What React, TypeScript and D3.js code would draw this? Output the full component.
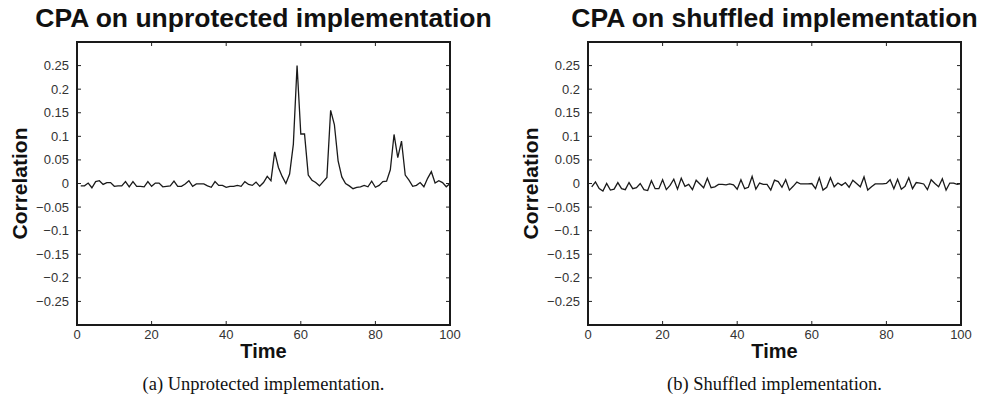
import React, { useRef, useEffect } from "react";
import * as d3 from "d3";

// correlation values for time samples 1..100
const unprotectedCorr = [
  -0.005, -0.005, 0.001, -0.009, 0.004, 0.006, -0.002, 0.002, 0.002, -0.006,
  -0.005, -0.005, 0.004, -0.007, 0.004, -0.006, -0.006, -0.007, 0.004, -0.006,
  0.001, 0.001, -0.007, -0.006, -0.005, 0.005, -0.006, -0.006, -0.001, 0.006,
  -0.006, -0.001, -0.001, -0.001, -0.005, -0.008, 0.004, -0.004, -0.004, -0.008,
  -0.006, -0.006, -0.004, -0.006, 0.004, -0.002, -0.004, 0.003, -0.006, 0.002,
  0.015, 0.006, 0.067, 0.034, 0.015, 0.0, 0.02, 0.083, 0.25, 0.105,
  0.105, 0.018, 0.007, 0.002, -0.005, 0.004, 0.013, 0.155, 0.125, 0.048,
  0.014, 0.0, -0.005, -0.011, -0.008, -0.007, -0.004, -0.007, 0.005, -0.008,
  -0.004, 0.004, 0.005, 0.029, 0.104, 0.055, 0.09, 0.018, 0.007, -0.006,
  -0.004, 0.002, -0.007, 0.011, 0.025, 0.001, 0.006, 0.002, -0.007, 0.0,
];

const shuffledCorr = [
  -0.007, 0.0035, -0.0105, -0.016, 0, -0.014, -0.012, 0.002, -0.011, -0.013,
  0.002, -0.011, -0.009, 0, -0.013, -0.015, 0.006, -0.011, -0.011, 0.008,
  -0.013, -0.004, 0.009, -0.012, 0.011, -0.006, -0.002, -0.013, 0.007, -0.001,
  -0.009, 0.011, -0.009, -0.007, -0.002, -0.002, -0.003, -0.001, -0.003, -0.012,
  0.008, -0.011, -0.008, 0.015, -0.012, 0.001, -0.002, -0.002, -0.014, 0.007,
  0.004, -0.008, 0.008, -0.014, -0.006, 0.003, -0.001, -0.001, -0.001, 0,
  -0.011, 0.012, -0.014, -0.008, 0.012, -0.007, 0.001, -0.004, 0.002, -0.008,
  0.007, 0, -0.007, 0.014, -0.014, -0.007, -0.001, -0.001, -0.001, 0,
  0.008, -0.011, 0.009, -0.012, -0.006, 0.012, -0.011, 0.002, 0.001, -0.001,
  -0.013, 0.008, 0, -0.007, 0.01, -0.014, 0.001, 0.001, -0.002, 0,
];

const xTicks = [0, 20, 40, 60, 80, 100];
const yTicks = [-0.25, -0.2, -0.15, -0.1, -0.05, 0, 0.05, 0.1, 0.15, 0.2, 0.25];

const SANS = "'Liberation Sans', Arial, Helvetica, sans-serif";
const SERIF = "'Liberation Serif', 'Times New Roman', serif";

const top = 42;
const bottom = 325;
const plotW = 373;

function fmtY(v: number) {
  if (Math.abs(v) < 1e-9) return "0";
  const s = String(Math.abs(+v.toFixed(2)));
  return (v < 0 ? "\u2212" : "") + s;
}

function drawPanel(
  g: d3.Selection<SVGGElement, unknown, null, undefined>,
  left: number,
  title: string,
  caption: string,
  values: number[]
) {
  const x = d3.scaleLinear().domain([0, 100]).range([left, left + plotW]);
  const y = d3.scaleLinear().domain([-0.3, 0.3]).range([bottom, top]);
  const tickLen = 4;

  // title
  g.append("text")
    .attr("x", left + plotW / 2)
    .attr("y", 27)
    .attr("text-anchor", "middle")
    .attr("font-family", SANS)
    .attr("font-weight", 700)
    .attr("font-size", 26.5)
    .attr("fill", "#111")
    .text(title);

  // ticks on all four sides, pointing inward
  xTicks.forEach((t) => {
    g.append("line")
      .attr("x1", x(t)).attr("x2", x(t))
      .attr("y1", bottom).attr("y2", bottom - tickLen)
      .attr("stroke", "#222").attr("stroke-width", 1);
    g.append("line")
      .attr("x1", x(t)).attr("x2", x(t))
      .attr("y1", top).attr("y2", top + tickLen)
      .attr("stroke", "#222").attr("stroke-width", 1);
    g.append("text")
      .attr("x", x(t))
      .attr("y", 339)
      .attr("text-anchor", "middle")
      .attr("font-family", SANS)
      .attr("font-size", 13)
      .attr("fill", "#333")
      .text(t);
  });

  yTicks.forEach((t) => {
    g.append("line")
      .attr("x1", left).attr("x2", left + tickLen)
      .attr("y1", y(t)).attr("y2", y(t))
      .attr("stroke", "#222").attr("stroke-width", 1);
    g.append("line")
      .attr("x1", left + plotW).attr("x2", left + plotW - tickLen)
      .attr("y1", y(t)).attr("y2", y(t))
      .attr("stroke", "#222").attr("stroke-width", 1);
    g.append("text")
      .attr("x", left - 8)
      .attr("y", y(t))
      .attr("dy", "0.35em")
      .attr("text-anchor", "end")
      .attr("font-family", SANS)
      .attr("font-size", 13)
      .attr("fill", "#333")
      .text(fmtY(t));
  });

  // the trace
  const line = d3
    .line<number>()
    .x((_, i) => x(i + 1))
    .y((d) => y(d));
  g.append("path")
    .attr("d", line(values) || "")
    .attr("fill", "none")
    .attr("stroke", "#1a1a1a")
    .attr("stroke-width", 1.3)
    .attr("stroke-linejoin", "miter");

  // box
  g.append("rect")
    .attr("x", left)
    .attr("y", top)
    .attr("width", plotW)
    .attr("height", bottom - top)
    .attr("fill", "none")
    .attr("stroke", "#1a1a1a")
    .attr("stroke-width", 2);

  // axis labels
  g.append("text")
    .attr("transform", `translate(${left - 57},${(top + bottom) / 2}) rotate(-90)`)
    .attr("text-anchor", "middle")
    .attr("dy", "0.35em")
    .attr("font-family", SANS)
    .attr("font-weight", 700)
    .attr("font-size", 21)
    .attr("fill", "#111")
    .text("Correlation");

  g.append("text")
    .attr("x", left + plotW / 2)
    .attr("y", 358)
    .attr("text-anchor", "middle")
    .attr("font-family", SANS)
    .attr("font-weight", 700)
    .attr("font-size", 20)
    .attr("fill", "#111")
    .text("Time");

  g.append("text")
    .attr("x", left + plotW / 2)
    .attr("y", 390)
    .attr("text-anchor", "middle")
    .attr("font-family", SERIF)
    .attr("font-size", 18.5)
    .attr("fill", "#111")
    .text(caption);
}

export default function App() {
  const svgRef = useRef<SVGSVGElement | null>(null);

  useEffect(() => {
    const svg = d3.select(svgRef.current);
    svg.selectAll("*").remove();
    const g = svg.append("g") as d3.Selection<SVGGElement, unknown, null, undefined>;
    drawPanel(g, 77, "CPA on unprotected implementation", "(a) Unprotected implementation.", unprotectedCorr);
    drawPanel(g, 588, "CPA on shuffled implementation", "(b) Shuffled implementation.", shuffledCorr);
    return () => {
      svg.selectAll("*").remove();
    };
  }, []);

  return (
    <div style={{ position: "absolute", left: 0, top: 0, background: "#fff" }}>
      <svg ref={svgRef} width={985} height={403} style={{ display: "block" }} />
    </div>
  );
}
